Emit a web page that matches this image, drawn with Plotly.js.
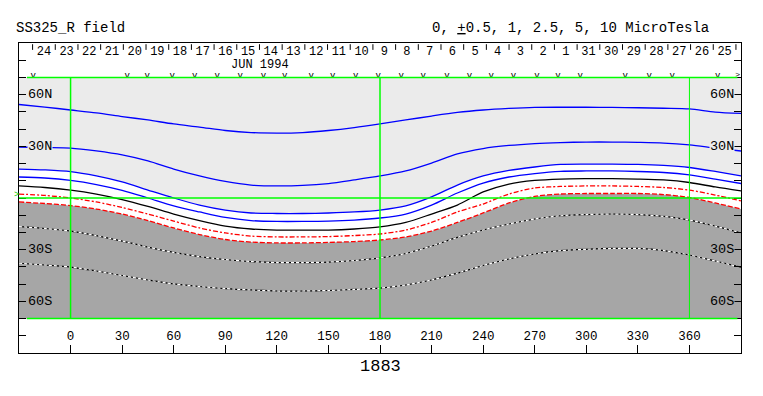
<!DOCTYPE html>
<html>
<head>
<meta charset="utf-8">
<script src="https://cdn.plot.ly/plotly-3.0.1.min.js"></script>
<style>html,body{margin:0;padding:0;background:#fff;}#chart{width:763px;height:396px;}</style>
</head>
<body>
<div id="chart"></div>
<script>
// Carrington longitude samples (degrees)
const lon = [-30,-15,0,15,30,45,60,75,90,105,120,135,150,165,180,195,210,225,240,255,270,285,300,315,330,345,360,375,390];

// Contour latitudes (degrees), one array per level (MicroTesla)
const levelP5  = [54.3,52.8,51.1,49.4,47.3,45.3,43.0,41.2,39.2,38.0,37.7,38.0,39.2,40.9,43.0,45.3,47.6,49.7,51.1,52.0,52.6,52.7,52.7,52.6,52.4,52.1,51.7,49.9,49.1];
const levelP25 = [29.6,29.3,29.0,27.3,25.0,21.5,16.8,12.8,9.6,7.5,7.0,7.3,8.4,10.5,12.8,15.7,20.3,25.6,28.7,30.5,31.6,32.2,32.5,32.5,32.3,31.9,30.8,29.0,27.3];
const levelP1  = [16.8,16.3,15.3,12.8,9.3,4.6,0.0,-4.1,-7.0,-8.7,-9.0,-9.0,-8.7,-8.1,-7.0,-4.6,0.6,7.5,12.8,16.0,18.0,19.5,19.7,19.7,19.5,18.9,17.7,15.4,12.8];
const levelP05 = [12.2,11.6,10.2,7.8,4.4,0.0,-4.6,-8.1,-11.3,-13.1,-13.6,-13.6,-13.4,-12.8,-11.6,-9.3,-4.1,2.9,8.7,12.2,14.2,15.5,15.7,15.7,15.4,14.8,13.4,11.0,8.4];
const level0   = [7.0,6.1,4.6,2.3,-0.9,-4.9,-9.3,-13.1,-16.3,-18.0,-18.6,-18.6,-18.6,-18.0,-16.8,-14.2,-9.3,-4.1,3.5,8.1,10.2,11.0,11.2,11.2,11.0,10.5,9.0,6.4,4.1];
const levelM05 = [2.3,1.5,0.0,-2.3,-5.5,-9.3,-13.4,-17.4,-20.3,-22.1,-22.6,-22.6,-22.4,-21.8,-20.9,-18.6,-14.2,-8.1,-3.5,2.3,5.8,6.7,7.0,7.0,6.7,6.1,4.6,1.7,-1.7];
const levelM1  = [-2.3,-3.2,-4.4,-6.4,-9.3,-13.1,-17.4,-21.2,-24.1,-25.6,-26.1,-26.1,-25.8,-25.3,-24.4,-22.6,-19.2,-14.2,-8.7,-2.9,0.9,2.3,2.6,2.6,2.6,2.0,0.3,-2.9,-6.4];
const levelM25 = [-16.6,-17.7,-19.2,-21.8,-25.0,-28.5,-31.6,-34.0,-35.7,-36.9,-37.5,-37.5,-37.2,-36.3,-34.8,-32.2,-27.9,-22.9,-18.6,-15.1,-12.2,-10.3,-9.6,-9.3,-9.6,-10.7,-12.8,-16.3,-20.2];
const levelM5  = [-37.9,-38.9,-40.1,-42.4,-45.0,-47.6,-49.9,-51.4,-52.6,-53.4,-54.0,-54.0,-53.7,-53.1,-52.3,-50.5,-47.6,-43.6,-39.2,-35.4,-32.5,-30.6,-29.8,-29.3,-29.3,-30.5,-33.1,-36.6,-40.2];

// Axis labels
const lonTicks = [0,30,60,90,120,150,180,210,240,270,300,330,360];
const lonTickLabels = ['0','30','60','90','120','150','180','210','240','270','300','330','360'];
const latLabelVals = [60,30,-30,-60];
const latLabelText = ['60N','30N','30S','60S'];

// Dates along the top (Carrington rotation 1883, June 1994)
const dayLabels = ['24','23','22','21','20','19','18','17','16','15','14','13','12','11','10','9','8','7','6','5','4','3','2','1','31','30','29','28','27','26','25'];
const firstDayEdge = -22.1;          // longitude of the first day boundary
const degPerDay = 360 / 27.2753;     // Carrington synodic rate
// observation markers (longitudes)
const obsLon = [-21.7,33.0,44.6,59.1,72.2,85.3,98.7,112.2,124.6,140.0,152.5,165.8,179.0,192.3,205.1,218.9,232.1,244.7,257.6,271.3,283.5,296.4,322.6,336.6,350.0,376.4];
const obsEndLon = [388.0];

const FONT = 'Liberation Mono, Courier New, monospace';
const LIGHT = '#EBEBEB', DARK = '#A6A6A6', GREEN = '#00FF00';
const XR = [-30, 390], YR = [-90, 90], DATA_LAT = 70;

const dayEdges = dayLabels.map((_, i) => firstDayEdge + i * degPerDay).concat([firstDayEdge + dayLabels.length * degPerDay]);
const dayCenters = dayLabels.map((_, i) => firstDayEdge + (i + 0.5) * degPerDay);

function line(y, color, width, dash) {
  return {x: lon, y: y, mode: 'lines', type: 'scatter', hoverinfo: 'skip', showlegend: false,
          line: {color: color, width: width, dash: dash || 'solid', shape: 'spline', smoothing: 0.8}};
}

const traces = [];
// dark region: below the -1 contour
traces.push({x: XR, y: [-DATA_LAT, -DATA_LAT], mode: 'lines', line: {width: 0}, hoverinfo: 'skip', showlegend: false});
traces.push({x: lon, y: levelM1, mode: 'lines', line: {width: 0, shape: 'spline', smoothing: 0.8}, fill: 'tonexty', fillcolor: DARK, hoverinfo: 'skip', showlegend: false});
// white band between +1 and -1
traces.push({x: lon, y: levelP1, mode: 'lines', line: {width: 0, shape: 'spline', smoothing: 0.8}, hoverinfo: 'skip', showlegend: false});
traces.push({x: lon, y: levelM1, mode: 'lines', line: {width: 0, shape: 'spline', smoothing: 0.8}, fill: 'tonexty', fillcolor: '#FFFFFF', hoverinfo: 'skip', showlegend: false});

// contour lines
traces.push(line(levelP5, '#0000FF', 1.3));
traces.push(line(levelP25, '#0000FF', 1.3));
traces.push(line(levelP1, '#0000FF', 1.3));
traces.push(line(levelP05, '#0000FF', 1.3));
traces.push(line(level0, '#000000', 1.3));
traces.push(line(levelM05, '#FF0000', 1.3, '5px,2px,2px,2px'));
traces.push(line(levelM1, '#FF0000', 1.3, '5px,2px'));
traces.push(line(levelM25, '#000000', 1.2));
traces.push(line(levelM25, '#FFFFFF', 1.2, '3px,2px'));
traces.push(line(levelM5, '#000000', 1.2));
traces.push(line(levelM5, '#FFFFFF', 1.2, '3px,2px'));

// top date labels
traces.push({x: dayCenters, y: dayLabels.map(() => 84.9), text: dayLabels, mode: 'text', type: 'scatter',
  textfont: {family: FONT, size: 12, color: '#000'}, textposition: 'middle center', cliponaxis: false, hoverinfo: 'skip', showlegend: false});
// observation markers
traces.push({x: obsLon, y: obsLon.map(() => 71.2), text: obsLon.map(() => 'v'), mode: 'text', type: 'scatter',
  textfont: {family: FONT, size: 9, color: '#000'}, textposition: 'middle center', cliponaxis: false, hoverinfo: 'skip', showlegend: false});
traces.push({x: obsEndLon, y: [71.2], text: ['>'], mode: 'text', type: 'scatter',
  textfont: {family: FONT, size: 8, color: '#000'}, textposition: 'middle center', cliponaxis: false, hoverinfo: 'skip', showlegend: false});
// bottom longitude labels
traces.push({x: lonTicks, y: lonTicks.map(() => -80.7), text: lonTickLabels, mode: 'text', type: 'scatter',
  textfont: {family: FONT, size: 12.5, color: '#000'}, textposition: 'middle center', cliponaxis: false, hoverinfo: 'skip', showlegend: false});

const shapes = [];
shapes.push({type: 'rect', xref: 'x', yref: 'y', x0: XR[0], x1: XR[1], y0: -DATA_LAT, y1: DATA_LAT, fillcolor: LIGHT, line: {width: 0}, layer: 'below'});
// green reference lines
[DATA_LAT, -DATA_LAT].forEach(v => shapes.push({type: 'line', xref: 'paper', yref: 'y', x0: 0.011, x1: 0.995, y0: v, y1: v, line: {color: GREEN, width: 1.5}, layer: 'above'}));
shapes.push({type: 'line', xref: 'paper', yref: 'y', x0: 0, x1: 1, y0: 0, y1: 0, line: {color: GREEN, width: 1.5}, layer: 'above'});
[0, 180].forEach(v => shapes.push({type: 'line', xref: 'x', yref: 'y', x0: v, x1: v, y0: -DATA_LAT, y1: DATA_LAT, line: {color: GREEN, width: 1.5}, layer: 'above'}));
shapes.push({type: 'line', xref: 'x', yref: 'y', x0: 360, x1: 360, y0: -DATA_LAT, y1: DATA_LAT, line: {color: GREEN, width: 1}, layer: 'above'});
// day boundary ticks
dayEdges.forEach(v => shapes.push({type: 'line', xref: 'x', yref: 'y', x0: v, x1: v, y0: 89.3, y1: 86.0, line: {color: '#000', width: 1}}));

const annotations = [];
annotations.push({xref: 'paper', yref: 'paper', x: -0.0075, y: 1.049, xanchor: 'left', yanchor: 'middle', showarrow: false,
  text: 'SS325_R field', font: {family: FONT, size: 14, color: '#000'}});
annotations.push({xref: 'paper', yref: 'paper', x: 0.5690, y: 1.049, xanchor: 'left', yanchor: 'middle', showarrow: false,
  text: '0, <u>+</u>0.5, 1, 2.5, 5, 10 MicroTesla', font: {family: FONT, size: 14, color: '#000'}});
annotations.push({xref: 'x', yref: 'y', x: 110, y: 77.0, xanchor: 'center', yanchor: 'middle', showarrow: false,
  text: 'JUN 1994', font: {family: FONT, size: 12, color: '#000'}});
annotations.push({xref: 'x', yref: 'paper', x: 180, y: -0.042, xanchor: 'center', yanchor: 'middle', showarrow: false,
  text: '1883', font: {family: FONT, size: 17, color: '#000'}});
annotations.push({xref: 'paper', yref: 'paper', x: -0.004, y: 0.509, xanchor: 'center', yanchor: 'middle', showarrow: false,
  text: '>', font: {family: FONT, size: 9, color: '#00CC00'}});
latLabelVals.forEach((v, i) => {
  const bg = v > 0 ? LIGHT : DARK;
  annotations.push({xref: 'paper', yref: 'y', x: 0.0105, y: v, xanchor: 'left', yanchor: 'middle', showarrow: false,
    text: latLabelText[i], bgcolor: bg, borderpad: 0, font: {family: FONT, size: 13.5, color: '#000'}});
  annotations.push({xref: 'paper', yref: 'y', x: 0.9917, y: v, xanchor: 'right', yanchor: 'middle', showarrow: false,
    text: latLabelText[i], bgcolor: bg, borderpad: 0, font: {family: FONT, size: 13.5, color: '#000'}});
});

const layout = {
  width: 763, height: 396,
  margin: {l: 19, r: 22, t: 43, b: 43, pad: 0},
  paper_bgcolor: '#FFFFFF', plot_bgcolor: '#FFFFFF',
  showlegend: false,
  xaxis: {range: XR, showgrid: false, zeroline: false, showline: true, mirror: true, linecolor: '#000', linewidth: 1,
          ticks: 'inside', tickvals: lonTicks, ticklen: 8, tickcolor: '#000', tickwidth: 1, showticklabels: false, fixedrange: true},
  yaxis: {range: YR, showgrid: false, zeroline: false, showline: true, mirror: 'ticks', linecolor: '#000', linewidth: 1,
          ticks: 'inside', dtick: 10, tick0: 0, ticklen: 7, tickcolor: '#000', tickwidth: 1, showticklabels: false, fixedrange: true},
  shapes: shapes,
  annotations: annotations
};

Plotly.newPlot('chart', traces, layout, {displayModeBar: false, staticPlot: true});
</script>
</body>
</html>
